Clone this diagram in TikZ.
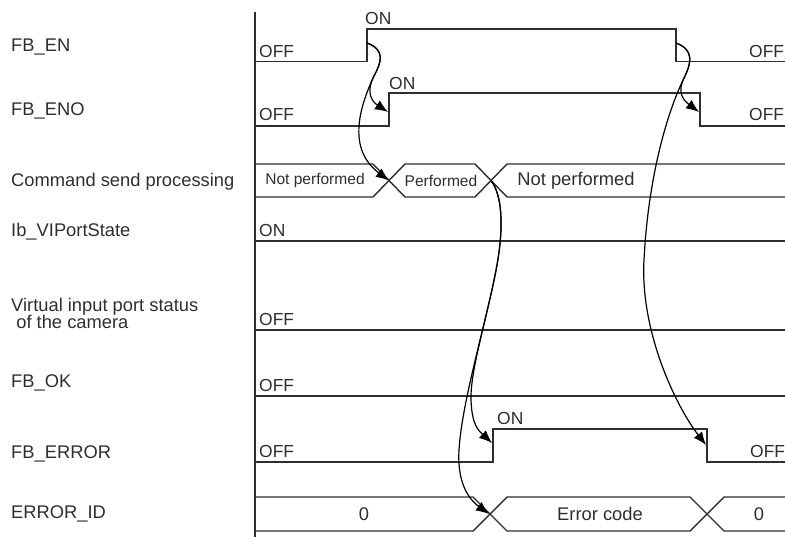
\documentclass[tikz,border=0pt]{standalone}
\usepackage{fontspec}
\setmainfont{Liberation Sans}
\usetikzlibrary{arrows.meta}
\definecolor{ink}{HTML}{2E2E2E}
\tikzset{
  sig/.style={line width=1.4bp, draw=ink},
  conn/.style={line width=1.2bp, draw=black, -{Latex[length=13bp,width=10.5bp]}},
  lbl/.style={anchor=base west, inner sep=0pt, text=ink, font=\fontsize{18.4}{21}\selectfont},
  st/.style={anchor=base west, inner sep=0pt, text=ink, font=\fontsize{17.5}{20}\selectfont},
  bustxt/.style={anchor=center, inner sep=0pt, text=ink, font=\fontsize{18.4}{21}\selectfont},
  bussmall/.style={anchor=center, inner sep=0pt, text=ink, font=\fontsize{15.6}{18}\selectfont}
}
\begin{document}
\begin{tikzpicture}[x=1bp,y=-1bp]
\useasboundingbox (0,0) rectangle (785,537);
% axis
\draw[sig] (255,12) -- (255,537);
% left labels
\node[lbl] (lEN) at (11,51.5) {FB\_EN};
\node[lbl] (lENO) at (11,115.5) {FB\_ENO};
\node[lbl] (lCmd) at (11,186.5) {Command send processing};
\node[lbl] (lIb) at (11,236.5) {Ib\_VIPortState};
\node[lbl, align=left, font=\fontsize{18.4}{17.5}\selectfont] (lVir) at (11,328.5) {Virtual input port status\\\hspace*{0.28em}of the camera};
\node[lbl] (lOK) at (11,387.5) {FB\_OK};
\node[lbl] (lERR) at (11,458.5) {FB\_ERROR};
\node[lbl] (lID) at (11,518.5) {ERROR\_ID};
% FB_EN
\draw[sig] (255,61.5) -- (367,61.5) -- (367,29) -- (676,29) -- (676,61.5) -- (785,61.5);
\node[st] (enon) at (365,25) {ON};
\node[st] (enoff1) at (259,57.5) {OFF};
\node[st] (enoff2) at (749,57.5) {OFF};
% FB_ENO
\draw[sig] (255,126) -- (389,126) -- (389,93) -- (700,93) -- (700,126) -- (785,126);
\node[st] (enoon) at (389,90) {ON};
\node[st] (enooff1) at (259,121) {OFF};
\node[st] (enooff2) at (749,121) {OFF};
% Command send processing bus
\draw[sig] (255,164) -- (373,164) -- (405,197) -- (475,197) -- (507,164) -- (785,164);
\draw[sig] (255,197) -- (373,197) -- (405,164) -- (475,164) -- (507,197) -- (785,197);
\node[bussmall] (np1) at (315,180.5) {Not performed};
\node[bussmall] (pf) at (441,180.5) {Performed};
\node[bustxt] (np2) at (576,180.5) {Not performed};
% Ib_VIPortState
\draw[sig] (255,241) -- (785,241);
\node[st] (ibon) at (259,237) {ON};
% Virtual input
\draw[sig] (255,330) -- (785,330);
\node[st] (viroff) at (259,325.5) {OFF};
% FB_OK
\draw[sig] (255,396) -- (785,396);
\node[st] (okoff) at (259,391.5) {OFF};
% FB_ERROR
\draw[sig] (255,462) -- (493,462) -- (493,429) -- (707,429) -- (707,462) -- (785,462);
\node[st] (erron) at (497,424) {ON};
\node[st] (erroff1) at (259,457.5) {OFF};
\node[st] (erroff2) at (750,457.5) {OFF};
% ERROR_ID bus
\draw[sig] (255,497) -- (473,497) -- (507,531) -- (690,531) -- (724,497) -- (785,497);
\draw[sig] (255,531) -- (473,531) -- (507,497) -- (690,497) -- (724,531) -- (785,531);
\node[bustxt] (id0a) at (364,514) {0};
\node[bustxt] (idec) at (600,514) {Error code};
\node[bustxt] (id0b) at (759,514) {0};
% connector anchor points
\coordinate (enR) at (367,43);
\coordinate (enF) at (676,43);
\coordinate (enoR) at (388,112);
\coordinate (enoF) at (699,112);
\coordinate (cx1) at (389,180.5);
\coordinate (cx2) at (491,180.5);
\coordinate (errR) at (492,443);
\coordinate (errF) at (706,445);
\coordinate (idx1) at (489,514);
% connectors
\draw[conn] (enR) .. controls (386,50) and (381,63) .. (374,76) .. controls (366,91) and (371,101) .. (enoR);
\draw[conn] (enR) .. controls (386,50) and (381,63) .. (374,76) .. controls (358,110) and (348,150) .. (cx1);
\draw[conn] (enF) .. controls (695,50) and (691,64) .. (684,78) .. controls (677,92) and (683,100) .. (enoF);
\draw[conn] (enF) .. controls (695,50) and (691,64) .. (684,78) .. controls (666,115) and (648,180) .. (644,260) .. controls (640,330) and (675,405) .. (errF);
\draw[conn] (cx2) .. controls (502,195) and (504,225) .. (497,265) .. controls (488,315) and (470,370) .. (471,400) .. controls (472,425) and (478,430) .. (errR);
\draw[conn] (cx2) .. controls (502,195) and (504,225) .. (497,265) .. controls (487,320) and (462,400) .. (459,450) .. controls (457,485) and (470,500) .. (idx1);
\end{tikzpicture}
\end{document}
